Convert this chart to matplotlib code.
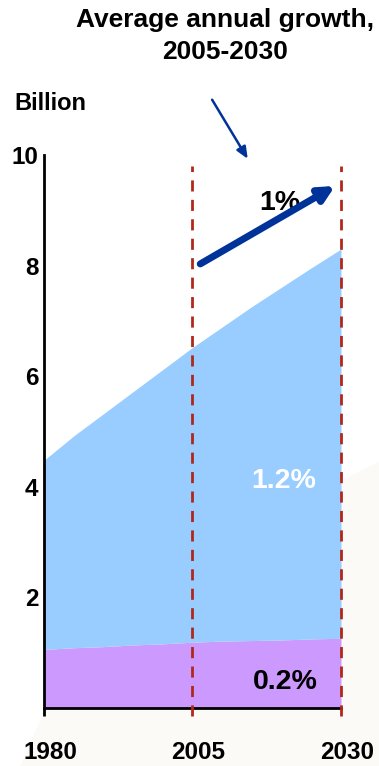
import matplotlib
matplotlib.use("Agg")
import matplotlib.pyplot as plt
import matplotlib.transforms as mtransforms
from matplotlib.patches import Polygon

plt.rcParams['font.family'] = ['Liberation Sans', 'DejaVu Sans']
plt.rcParams['font.weight'] = 'bold'

# world population, billion
years = [1980, 1985, 1990, 1995, 2000, 2005, 2010, 2015, 2020, 2025, 2030]
developed = [1.06, 1.09, 1.11, 1.14, 1.16, 1.19, 1.21, 1.22, 1.23, 1.25, 1.26]
total = [4.48, 4.92, 5.32, 5.72, 6.12, 6.52, 6.89, 7.26, 7.61, 7.96, 8.30]

xtick_years = [1980, 2005, 2030]
yticks = [2, 4, 6, 8, 10]
marker_years = [2005, 2030]

growth_labels = ['1%', '1.2%', '0.2%']

W, H = 379, 766
fig = plt.figure(figsize=(W / 100, H / 100), dpi=100)
fig.patch.set_facecolor('white')

# faint slide background shape
bg = Polygon([(20 / W, 0), (44 / W, 54 / H), (342 / W, 286 / H),
              (1.0, 304 / H), (1.0, 0)], closed=True,
             transform=fig.transFigure, facecolor='#fbfaf6', edgecolor='none',
             zorder=0)
fig.patches.append(bg)

ax = fig.add_axes([44 / W, 58 / H, 297 / W, 553 / H])
ax.set_zorder(2)
ax.patch.set_visible(False)

ax.fill_between(years, 0, developed, color='#cc99ff', lw=0)
ax.fill_between(years, developed, total, color='#99ccff', lw=0)

ax.set_xlim(1980, 2030)
ax.set_ylim(0, 10)

for s in ['top', 'right']:
    ax.spines[s].set_visible(False)
ax.spines['left'].set_linewidth(2)
ax.spines['bottom'].set_linewidth(2)
ax.spines['left'].set_bounds(0, 10)

ax.set_yticks(yticks)
ax.set_yticklabels([str(v) for v in yticks])
ax.tick_params(axis='y', length=0, pad=4, labelsize=17.5)

ax.set_xticks(xtick_years)
ax.set_xticklabels([str(v) for v in xtick_years])
ax.tick_params(axis='x', length=6, width=2, direction='out', pad=18, labelsize=17.5)
for t in ax.xaxis.get_major_ticks()[1:]:
    t.tick1line.set_visible(False)
offset = mtransforms.ScaledTranslation(6 / 100, 0, fig.dpi_scale_trans)
for lbl in ax.get_xticklabels():
    lbl.set_transform(lbl.get_transform() + offset)

for yr in marker_years:
    ax.plot([yr, yr], [-0.15, 9.8], color='#b0281c', lw=2, ls=(0, (4, 3)),
            clip_on=False, zorder=5)

# growth arrow
ax.annotate('', xy=(2029.0, 9.44), xytext=(2006.3, 8.03),
            arrowprops=dict(arrowstyle='-|>,head_width=0.45,head_length=0.9',
                            color='#003399', lw=5, shrinkA=0, shrinkB=0),
            zorder=6)
ax.text(2019.7, 9.13, growth_labels[0], ha='center', va='center', fontsize=20.5,
        color='black', zorder=5)
ax.text(2020.4, 4.10, growth_labels[1], ha='center', va='center', fontsize=20.5,
        color='white')
ax.text(2020.6, 0.47, growth_labels[2], ha='center', va='center', fontsize=20.5,
        color='black')

# pointer from the heading
ax.annotate('', xy=(2014.3, 9.93), xytext=(2008.3, 11.0),
            arrowprops=dict(arrowstyle='-|>,head_width=0.3,head_length=0.7',
                            color='#003399', lw=1.8, shrinkA=0, shrinkB=0),
            annotation_clip=False)

fig.text(225 / W, 1 - 27 / H, 'Average annual growth,', ha='center',
         va='baseline', fontsize=19)
fig.text(225 / W, 1 - 59 / H, '2005-2030', ha='center', va='baseline',
         fontsize=19)
fig.text(14 / W, 1 - 110 / H, 'Billion', ha='left', va='baseline', fontsize=17)

fig.savefig('out.png', dpi=100)
